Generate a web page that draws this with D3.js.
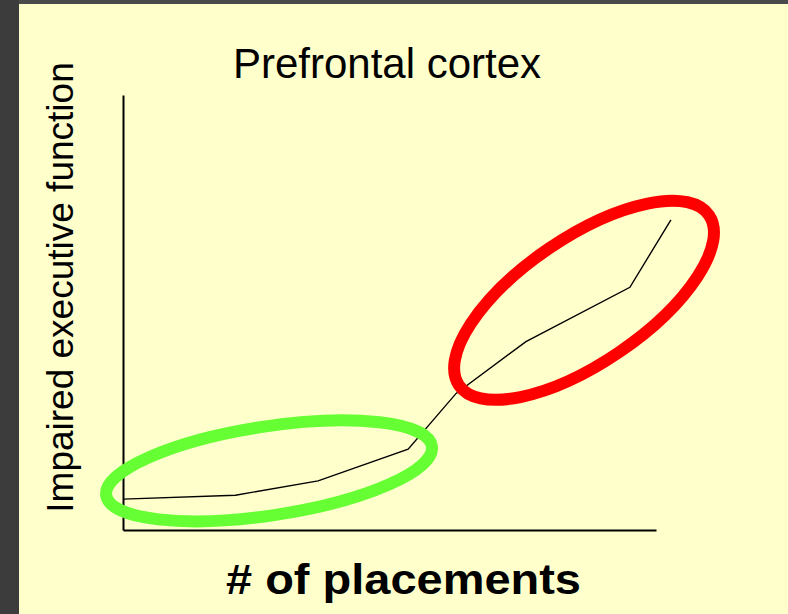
<!DOCTYPE html>
<html>
<head>
<meta charset="utf-8">
<script src="https://cdn.jsdelivr.net/npm/d3@7"></script>
<style>
  body { margin: 0; background: #3c3c3c; }
  svg { display: block; font-family: Arial, "Liberation Sans", sans-serif; }
</style>
</head>
<body>
<div id="container"></div>
<script>
// data (arbitrary units, 0-10 on both axes)
var placements = [0, 2.11, 3.66, 5.35, 6.25, 7.56, 9.51, 10.28];
var impairment = [0.71, 0.80, 1.13, 1.86, 3.14, 4.33, 5.58, 7.13];

// highlighted groups: centre in data units
var groupNames = ['early', 'late'];
var groupCx = [2.74, 8.65];
var groupCy = [1.36, 5.28];

var titleText = 'Prefrontal cortex';
var xLabel = '# of placements';
var yLabel = 'Impaired executive function';

var width = 788,
    height = 614;

var svg = d3.select('#container').append('svg')
    .attr('width', width)
    .attr('height', height);

// dark slide frame + yellow slide
svg.append('rect').attr('width', width).attr('height', height).attr('fill', '#3c3c3c');
svg.append('rect').attr('x', 19).attr('y', 0).attr('width', width - 19).attr('height', 4).attr('fill', '#4a4a4a');
svg.append('rect').attr('x', 19).attr('y', 4).attr('width', width - 19).attr('height', height - 4).attr('fill', '#ffffcc');

var x = d3.scaleLinear().domain([0, 10]).range([123, 656]);
var y = d3.scaleLinear().domain([0, 10]).range([530, 95]);

var g = svg.append('g');

// axes without ticks
g.append('g')
    .attr('transform', 'translate(0,' + y(0) + ')')
    .call(d3.axisBottom(x).tickValues([]).tickSizeOuter(0))
    .call(function (a) { a.select('.domain').attr('stroke', '#000').attr('stroke-width', 2); });
g.append('g')
    .attr('transform', 'translate(' + x(0) + ',0)')
    .call(d3.axisLeft(y).tickValues([]).tickSizeOuter(0))
    .call(function (a) { a.select('.domain').attr('stroke', '#000').attr('stroke-width', 2); });

var points = placements.map(function (p, i) { return [p, impairment[i]]; });
var line = d3.line()
    .x(function (d) { return x(d[0]); })
    .y(function (d) { return y(d[1]); });

g.append('path')
    .datum(points)
    .attr('d', line)
    .attr('fill', 'none')
    .attr('stroke', '#000')
    .attr('stroke-width', 1.4);

// ellipses round the two phases
var ellipseStyle = {
    early: { rx: 164.7, ry: 44.5, rot: -8.6, color: '#66ff33' },
    late: { rx: 151.2, ry: 62.6, rot: -34.2, color: '#ff0000' }
};
g.selectAll('.group')
    .data(groupNames)
    .enter().append('ellipse')
    .attr('class', 'group')
    .attr('transform', function (d, i) {
        return 'translate(' + x(groupCx[i]) + ',' + y(groupCy[i]) + ') rotate(' + ellipseStyle[d].rot + ')';
    })
    .attr('rx', function (d) { return ellipseStyle[d].rx; })
    .attr('ry', function (d) { return ellipseStyle[d].ry; })
    .attr('fill', 'none')
    .attr('stroke', function (d) { return ellipseStyle[d].color; })
    .attr('stroke-width', 12);

// texts
svg.append('text')
    .attr('x', 387)
    .attr('y', 77.7)
    .attr('text-anchor', 'middle')
    .attr('font-size', 42)
    .text(titleText);

svg.append('text')
    .attr('transform', 'translate(73,287.5) rotate(-90)')
    .attr('text-anchor', 'middle')
    .attr('font-size', 37)
    .text(yLabel);

// the slide stretches this label sideways
svg.append('text')
    .attr('x', 403.5)
    .attr('y', 594.3)
    .attr('text-anchor', 'middle')
    .attr('font-size', 42)
    .attr('font-weight', 'bold')
    .attr('textLength', 355)
    .attr('lengthAdjust', 'spacingAndGlyphs')
    .text(xLabel);
</script>
</body>
</html>
